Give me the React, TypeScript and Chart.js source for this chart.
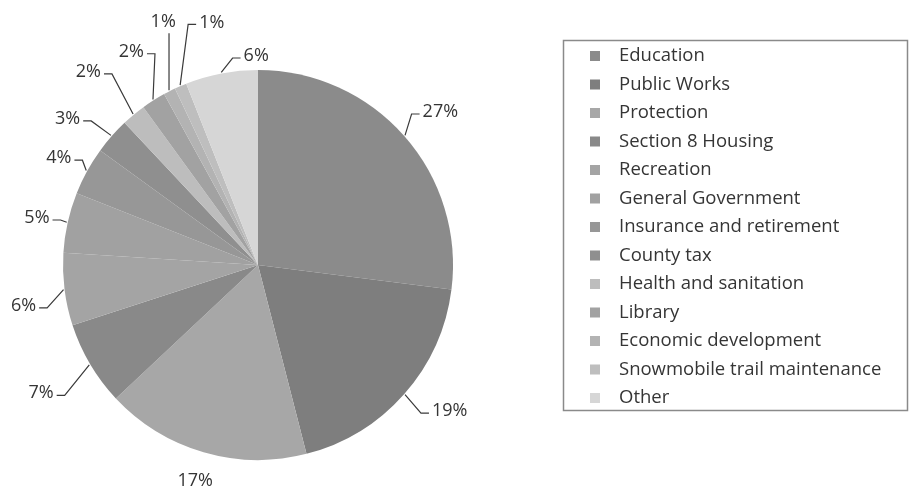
import React, { useEffect, useRef } from "react";
import { Chart, registerables } from "chart.js";

Chart.register(...registerables);

const categories = [
  "Education",
  "Public Works",
  "Protection",
  "Section 8 Housing",
  "Recreation",
  "General Government",
  "Insurance and retirement",
  "County tax",
  "Health and sanitation",
  "Library",
  "Economic development",
  "Snowmobile trail maintenance",
  "Other",
];

const percentValues = [27, 19, 17, 7, 6, 5, 4, 3, 2, 2, 1, 1, 6];

const sliceColors = [
  "#8b8b8b",
  "#7e7e7e",
  "#a7a7a7",
  "#898989",
  "#a4a4a4",
  "#a1a1a1",
  "#979797",
  "#8f8f8f",
  "#bdbdbd",
  "#a2a2a2",
  "#b3b3b3",
  "#bebebe",
  "#d6d6d6",
];

// label placement: [angle shift in degrees, distance from centre in px]
const labelLayout: [number, number][] = [
  [1.4, 238],
  [-4.1, 241],
  [0, 225],
  [0, 252],
  [-2.7, 238],
  [-0.6, 226],
  [-0.6, 226],
  [-3.9, 240],
  [-1.7, 257],
  [1.7, 248],
  [5.7, 261],
  [12.6, 247],
  [10.3, 209],
];

const FONT = '18px "Open Sans", sans-serif';
const LEGEND_FONT = '18.5px "Open Sans", sans-serif';
const TEXT_COLOR = "#353535";

const labelPlugin = {
  id: "pieLabels",
  afterDatasetsDraw(chart: any) {
    const ctx = chart.ctx;
    const meta = chart.getDatasetMeta(0);
    ctx.save();
    ctx.font = FONT;
    ctx.fillStyle = TEXT_COLOR;
    ctx.strokeStyle = "#3a3a3a";
    ctx.lineWidth = 1.2;
    ctx.textAlign = "center";
    ctx.textBaseline = "middle";
    meta.data.forEach((arc: any, i: number) => {
      const { x: cx, y: cy, startAngle, endAngle, outerRadius } = arc.getProps(
        ["x", "y", "startAngle", "endAngle", "outerRadius"],
        true
      );
      const mid = (startAngle + endAngle) / 2;
      const [shift, dist] = labelLayout[i];
      const la = mid + (shift * Math.PI) / 180;
      const lx = cx + dist * Math.cos(la);
      const ly = cy + dist * Math.sin(la);
      const text = percentValues[i] + "%";
      const w = ctx.measureText(text).width;
      const h = 13;
      const ax = cx + (outerRadius + 1) * Math.cos(mid);
      const ay = cy + (outerRadius + 1) * Math.sin(mid);
      ctx.beginPath();
      let draw = true;
      if (ax < lx - w / 2 - 3) {
        const ex = lx - w / 2 - 3;
        const ey = ly + 2;
        ctx.moveTo(ex, ey);
        ctx.lineTo(ex - 8, ey);
        ctx.lineTo(ax, ay);
      } else if (ax > lx + w / 2 + 3) {
        const ex = lx + w / 2 + 3;
        const ey = ly + 2;
        ctx.moveTo(ex, ey);
        ctx.lineTo(ex + 8, ey);
        ctx.lineTo(ax, ay);
      } else {
        const ey = ay > ly ? ly + h / 2 + 5 : ly - h / 2 - 5;
        if (Math.abs(ay - ey) < 25) draw = false;
        ctx.moveTo(ax, ey);
        ctx.lineTo(ax, ay);
      }
      if (draw) ctx.stroke();
      ctx.fillText(text, lx, ly);
    });
    ctx.restore();
  },
  afterDraw(chart: any) {
    const ctx = chart.ctx;
    ctx.save();
    const boxX = 563.5;
    const boxY = 40.5;
    const boxW = 344;
    const boxH = 370;
    ctx.strokeStyle = "#8a8a8a";
    ctx.lineWidth = 1.5;
    ctx.strokeRect(boxX, boxY, boxW, boxH);
    ctx.font = LEGEND_FONT;
    ctx.textBaseline = "middle";
    ctx.textAlign = "left";
    const rowH = 28.5;
    categories.forEach((name, i) => {
      const yc = 56 + i * rowH;
      ctx.fillStyle = sliceColors[i];
      ctx.fillRect(590, yc - 5, 10, 10);
      ctx.fillStyle = TEXT_COLOR;
      ctx.fillText(name, 619, yc);
    });
    ctx.restore();
  },
};

export default function App() {
  const canvasRef = useRef<HTMLCanvasElement | null>(null);
  useEffect(() => {
    if (!canvasRef.current) return;
    const chart = new Chart(canvasRef.current, {
      type: "pie",
      data: {
        labels: categories,
        datasets: [
          {
            data: percentValues,
            backgroundColor: sliceColors,
            borderWidth: 0,
          },
        ],
      },
      options: {
        animation: false,
        responsive: false,
        layout: { padding: { left: 63, right: 458, top: 70, bottom: 34 } },
        plugins: {
          legend: { display: false },
          tooltip: { enabled: false },
        },
      },
      plugins: [labelPlugin],
    });
    return () => chart.destroy();
  }, []);
  return (
    <div
      style={{
        position: "fixed",
        left: 0,
        top: 0,
        width: 911,
        height: 494,
        background: "#ffffff",
      }}
    >
      <canvas ref={canvasRef} width={911} height={494} />
    </div>
  );
}
